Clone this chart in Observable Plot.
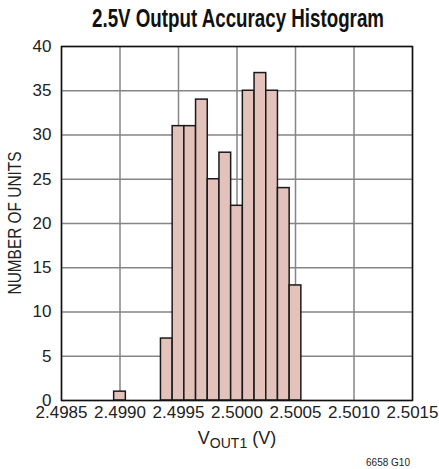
<!DOCTYPE html>
<html>
<head>
<meta charset="utf-8">
<script src="https://cdn.jsdelivr.net/npm/d3@7"></script>
<script src="https://cdn.jsdelivr.net/npm/@observablehq/plot@0.6"></script>
<style>
  html, body { margin: 0; padding: 0; background: #fff; }
</style>
</head>
<body>
<div id="chart"></div>
<script>
const title = "2.5V Output Accuracy Histogram";
const yLabel = "NUMBER OF UNITS";
const caption = "6658 G10";
const binCenters = [2.4990, 2.4994, 2.4995, 2.4996, 2.4997, 2.4998, 2.4999, 2.5000, 2.5001, 2.5002, 2.5003, 2.5004, 2.5005];
const counts = [1, 7, 31, 31, 34, 25, 28, 22, 35, 37, 35, 24, 13];
const binWidth = 0.0001;
const xTicks = [2.4985, 2.4990, 2.4995, 2.5000, 2.5005, 2.5010, 2.5015];
const yTicks = [0, 5, 10, 15, 20, 25, 30, 35, 40];

const data = binCenters.map((c, i) => ({center: c, count: counts[i]}));
const FONT = "'Liberation Sans', Arial, sans-serif";

const chart = Plot.plot({
  width: 439,
  height: 469,
  marginTop: 46,
  marginBottom: 69,
  marginLeft: 61,
  marginRight: 27,
  style: {fontFamily: FONT, fontSize: "17px", color: "#222", background: "#fff"},
  x: {domain: [2.4985, 2.5015], ticks: xTicks, tickFormat: d => d.toFixed(4), tickSize: 0, tickPadding: 5, label: null},
  y: {domain: [0, 40], ticks: yTicks, tickSize: 0, tickPadding: 10, label: null},
  marks: [
    Plot.gridX(xTicks, {stroke: "#858585", strokeOpacity: 1, strokeWidth: 1.5}),
    Plot.gridY(yTicks, {stroke: "#858585", strokeOpacity: 1, strokeWidth: 1.5}),
    Plot.rectY(data, {
      x1: d => d.center - binWidth / 2,
      x2: d => d.center + binWidth / 2,
      y: "count",
      inset: 0,
      fill: "#e3c2bc",
      stroke: "#1a1a1a",
      strokeWidth: 1.5
    }),
    Plot.frame({stroke: "#111", strokeWidth: 1.5})
  ]
});

document.getElementById("chart").appendChild(chart);

const svg = d3.select(chart);

// title (condensed look via textLength)
svg.append("text")
  .attr("x", 238).attr("y", 27)
  .attr("text-anchor", "middle")
  .attr("font-family", FONT)
  .attr("font-weight", "bold")
  .attr("font-size", 25)
  .attr("textLength", 292)
  .attr("lengthAdjust", "spacingAndGlyphs")
  .attr("fill", "#111")
  .text(title);

// y-axis label
svg.append("text")
  .attr("transform", "translate(21,223) rotate(-90)")
  .attr("text-anchor", "middle")
  .attr("font-family", FONT)
  .attr("font-size", 18)
  .attr("textLength", 143)
  .attr("lengthAdjust", "spacingAndGlyphs")
  .attr("fill", "#222")
  .text(yLabel);

// x-axis label with subscript
const xl = svg.append("text")
  .attr("x", 237)
  .attr("y", 444)
  .attr("text-anchor", "middle")
  .attr("font-family", FONT)
  .attr("font-size", 18)
  .attr("fill", "#222");
xl.append("tspan").text("V");
xl.append("tspan").attr("dy", 4).attr("font-size", 14).text("OUT1");
xl.append("tspan").attr("dy", -4).text(" (V)");

// caption
svg.append("text")
  .attr("x", 410).attr("y", 466)
  .attr("text-anchor", "end")
  .attr("font-family", FONT)
  .attr("font-size", 10)
  .attr("fill", "#222")
  .text(caption);
</script>
</body>
</html>
